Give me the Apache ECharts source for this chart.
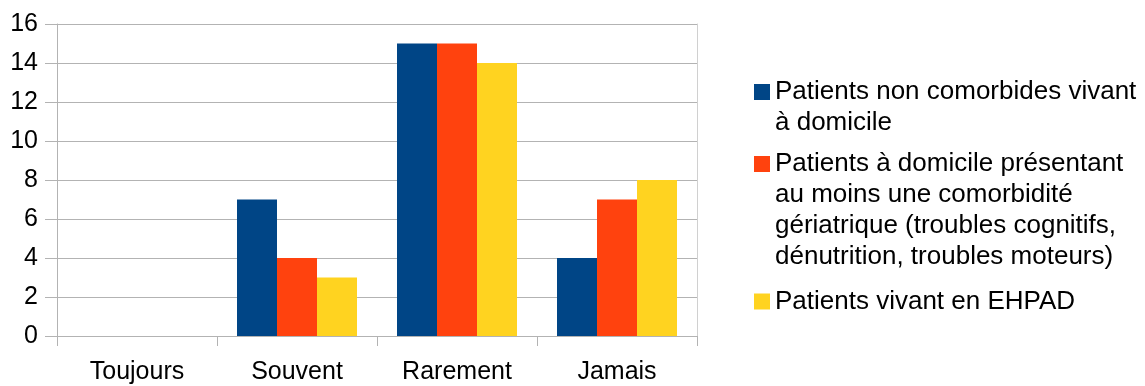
<!DOCTYPE html>
<html>
<head>
<meta charset="utf-8">
<script src="https://cdn.jsdelivr.net/npm/echarts@6/dist/echarts.min.js"></script>
<style>
html,body{margin:0;padding:0;background:#fff;}
#chart{width:1145px;height:386px;}
</style>
</head>
<body>
<div id="chart"></div>
<script>
const categories = ['Toujours', 'Souvent', 'Rarement', 'Jamais'];
const seriesNames = [
  'Patients non comorbides vivant\nà domicile',
  'Patients à domicile présentant\nau moins une comorbidité\ngériatrique (troubles cognitifs,\ndénutrition, troubles moteurs)',
  'Patients vivant en EHPAD'
];
const nonComorbides = [0, 7, 15, 4];
const comorbidite = [0, 4, 15, 7];
const ehpad = [0, 3, 14, 8];
const yTicks = [0, 2, 4, 6, 8, 10, 12, 14, 16];
const colors = ['#004586', '#ff420e', '#ffd320'];

const FONT = 'Liberation Sans';
const LH = 31;
const legendTops = [76.5, 148.5, 286];

const chart = echarts.init(document.getElementById('chart'), null, {renderer: 'canvas'});
const valuesList = [nonComorbides, comorbidite, ehpad];

const legends = seriesNames.map((name, i) => {
  const n = name.split('\n').length;
  const h = LH * n;
  // square icon aligned with the first text line
  const icon = n > 1
    ? 'path://M0,0L0,0M16,' + h + 'L16,' + h + 'M0,7.5L16,7.5L16,23.5L0,23.5Z'
    : 'rect';
  return {
    orient: 'vertical',
    left: 754,
    top: legendTops[i],
    padding: 0,
    itemWidth: 16,
    itemHeight: n > 1 ? h : 16,
    itemGap: 0,
    icon: icon,
    symbolKeepAspect: false,
    selectedMode: false,
    data: [name],
    textStyle: {
      fontFamily: FONT,
      fontSize: 26,
      color: '#000',
      lineHeight: LH
    }
  };
});

chart.setOption({
  animation: false,
  color: colors,
  grid: {left: 57, right: 448, top: 24, bottom: 50, containLabel: false},
  legend: legends,
  xAxis: {
    type: 'category',
    data: categories,
    axisLine: {show: true, lineStyle: {color: '#b3b3b3', width: 1}},
    axisTick: {show: true, length: 10, lineStyle: {color: '#b3b3b3'}},
    axisLabel: {fontFamily: FONT, fontSize: 25, color: '#000', margin: 24}
  },
  yAxis: [{
    type: 'value',
    min: 0, max: 16, interval: 2,
    axisLine: {show: true, lineStyle: {color: '#b3b3b3', width: 1}},
    axisTick: {show: true, length: 12, lineStyle: {color: '#b3b3b3'}},
    splitLine: {show: true, lineStyle: {color: '#b3b3b3', width: 1}},
    axisLabel: {fontFamily: FONT, fontSize: 25, color: '#000', margin: 19,
      formatter: v => yTicks.includes(v) ? String(v) : ''}
  }, {
    type: 'value',
    position: 'right',
    min: 0, max: 16, interval: 2,
    axisLine: {show: true, lineStyle: {color: '#d0d0d0', width: 1}},
    axisTick: {show: false},
    splitLine: {show: false},
    axisLabel: {show: false}
  }],
  series: seriesNames.map((name, i) => ({
    name: name,
    type: 'bar',
    data: valuesList[i],
    barGap: '0%',
    barCategoryGap: '25%',
    yAxisIndex: 0
  }))
});
</script>
</body>
</html>
